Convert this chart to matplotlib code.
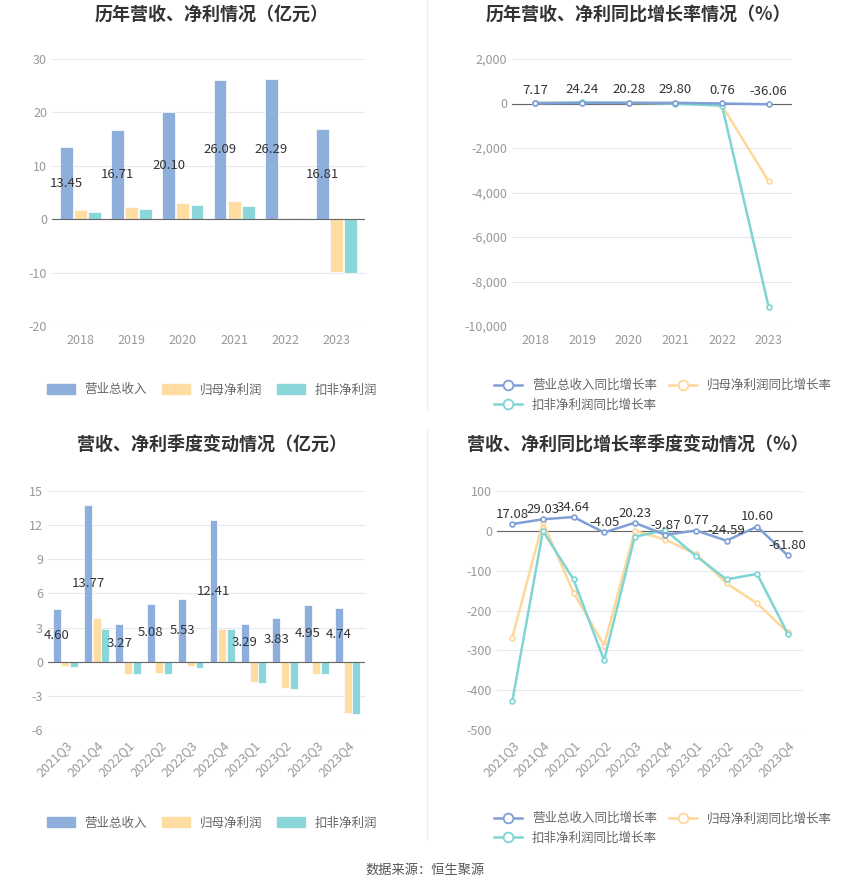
import matplotlib
matplotlib.use("Agg")
import matplotlib.pyplot as plt
import numpy as np
from matplotlib.lines import Line2D

plt.rcParams["font.family"] = ["Noto Sans CJK SC", "DejaVu Sans"]

BLUE = "#8eaedc"
ORANGE = "#fedca2"
CYAN = "#8ad6d8"
LBLUE = "#7f9fd6"
LORANGE = "#fdd899"
LCYAN = "#7fd4d4"
GRID = "#e3e8f3"
TICK = "#999999"

years = ["2018", "2019", "2020", "2021", "2022", "2023"]
rev_y = [13.45, 16.71, 20.10, 26.09, 26.29, 16.81]
np_y = [1.7, 2.3, 3.0, 3.5, 0.3, -9.8]
dnp_y = [1.3, 1.9, 2.6, 2.4, 0.15, -10.0]

rev_g_y = [7.17, 24.24, 20.28, 29.80, 0.76, -36.06]
np_g_y = [30, 35, 30, 15, -90, -3500]
dnp_g_y = [25, 45, 40, -10, -95, -9150]

quarters = ["2021Q3", "2021Q4", "2022Q1", "2022Q2", "2022Q3", "2022Q4",
            "2023Q1", "2023Q2", "2023Q3", "2023Q4"]
rev_q = [4.60, 13.77, 3.27, 5.08, 5.53, 12.41, 3.29, 3.83, 4.95, 4.74]
np_q = [-0.4, 3.8, -1.1, -1.0, -0.4, 2.9, -1.8, -2.3, -1.1, -4.5]
dnp_q = [-0.5, 2.9, -1.1, -1.1, -0.55, 2.9, -1.9, -2.4, -1.1, -4.6]

rev_g_q = [17.08, 29.03, 34.64, -4.05, 20.23, -9.87, 0.77, -24.59, 10.60, -61.80]
np_g_q = [-268, 22, -155, -288, 0, -22, -58, -132, -182, -255]
dnp_g_q = [-428, 0, -122, -325, -15, 2, -63, -122, -108, -258]

W, H = 850, 891
fig = plt.figure(figsize=(W / 100, H / 100), dpi=100)


def rect(x0, y0, x1, y1):
    return [x0 / W, 1 - y1 / H, (x1 - x0) / W, (y1 - y0) / H]


def style(ax, ylim, yticks, fmt="{:g}"):
    ax.set_ylim(*ylim)
    ax.set_yticks(yticks)
    ax.set_yticklabels([fmt.format(v) for v in yticks])
    ax.grid(axis="y", color=GRID, lw=0.8)
    ax.set_axisbelow(True)
    for s in ax.spines.values():
        s.set_visible(False)
    ax.axhline(0, color="#666666", lw=0.8, zorder=2)
    ax.tick_params(axis="both", colors=TICK, labelsize=9, length=0)
    ax.tick_params(axis="x", pad=6)


def bars(ax, cats, a, b, c, ylim, yticks, rot=0):
    x = np.arange(len(cats))
    w = 0.25
    ax.bar(x - w * 1.1, a, w, color=BLUE, ec="white", lw=0.5)
    ax.bar(x, b, w, color=ORANGE, ec="white", lw=0.5)
    ax.bar(x + w * 1.1, c, w, color=CYAN, ec="white", lw=0.5)
    for xi, v in zip(x, a):
        ax.text(xi - w * 1.1, v / 2, f"{v:.2f}", ha="center", va="center",
                fontsize=9.5, color="#333333", zorder=5)
    ax.set_xticks(x)
    ax.set_xticklabels(cats, rotation=rot, ha="right" if rot else "center",
                       rotation_mode="anchor")
    ax.set_xlim(-0.55, len(cats) - 0.45)
    style(ax, ylim, yticks)


def lines(ax, cats, a, b, c, ylim, yticks, fmt, rot=0, lab_off=0):
    x = np.arange(len(cats))
    kw = dict(marker="o", ms=3.5, mfc="white", mew=1.2, lw=1.8)
    ax.plot(x, b, color=LORANGE, zorder=3, **kw)
    ax.plot(x, c, color=LCYAN, zorder=4, **kw)
    ax.plot(x, a, color=LBLUE, zorder=5, **kw)
    for xi, v in zip(x, a):
        ax.text(xi, v + lab_off, f"{v:.2f}", ha="center", va="bottom",
                fontsize=9.5, color="#333333", zorder=6)
    ax.set_xticks(x)
    ax.set_xticklabels(cats, rotation=rot, ha="right" if rot else "center",
                       rotation_mode="anchor")
    ax.set_xlim(-0.5, len(cats) - 0.5)
    style(ax, ylim, yticks, fmt)


ax1 = fig.add_axes(rect(52, 59, 365, 326))
bars(ax1, years, rev_y, np_y, dnp_y, (-20, 30), [-20, -10, 0, 10, 20, 30])
ax2 = fig.add_axes(rect(512, 59, 792, 326))
lines(ax2, years, rev_g_y, np_g_y, dnp_g_y, (-10000, 2000),
      list(range(-10000, 2001, 2000)), "{:,.0f}", lab_off=300)
ax3 = fig.add_axes(rect(48, 491, 365, 730))
bars(ax3, quarters, rev_q, np_q, dnp_q, (-6, 15), [-6, -3, 0, 3, 6, 9, 12, 15], rot=45)
ax4 = fig.add_axes(rect(497, 491, 803, 730))
lines(ax4, quarters, rev_g_q, np_g_q, dnp_g_q, (-500, 100),
      list(range(-500, 101, 100)), "{:g}", rot=45, lab_off=8)

fig.text(212 / W, 1 - 14 / H, "历年营收、净利情况（亿元）", ha="center", va="center",
         fontsize=13, fontweight="bold", color="#333333")
fig.text(638 / W, 1 - 14 / H, "历年营收、净利同比增长率情况（%）", ha="center", va="center",
         fontsize=13, fontweight="bold", color="#333333")
fig.text(212 / W, 1 - 444 / H, "营收、净利季度变动情况（亿元）", ha="center", va="center",
         fontsize=13, fontweight="bold", color="#333333")
fig.text(638 / W, 1 - 444 / H, "营收、净利同比增长率季度变动情况（%）", ha="center", va="center",
         fontsize=13, fontweight="bold", color="#333333")

names = ["营业总收入", "归母净利润", "扣非净利润"]
bar_h = [plt.Rectangle((0, 0), 1, 1, color=c) for c in (BLUE, ORANGE, CYAN)]
for y in (390, 823):
    fig.legend(bar_h, names, loc="center", bbox_to_anchor=(212 / W, 1 - y / H),
               ncol=3, frameon=False, fontsize=9, handlelength=2.2, handleheight=0.9,
               columnspacing=1.2, labelcolor="#666666")

# column-wise fill: rev, ded | np  -> row1: rev, np ; row2: ded
gnames = ["营业总收入同比增长率", "扣非净利润同比增长率", "归母净利润同比增长率"]
line_h = [Line2D([], [], color=c, marker="o", ms=7, mfc="white", mew=1.3, lw=1.8)
          for c in (LBLUE, LCYAN, LORANGE)]
for y in (378, 811):
    fig.legend(line_h, gnames, loc="upper left", bbox_to_anchor=(483 / W, 1 - (y - 10) / H),
               ncol=2, frameon=False, fontsize=9, handlelength=2.2,
               columnspacing=1.0, labelcolor="#666666")

fig.add_artist(Line2D([427 / W, 427 / W], [1 - 410 / H, 1], color="#eeeeee", lw=1))
fig.add_artist(Line2D([427 / W, 427 / W], [1 - 840 / H, 1 - 430 / H], color="#eeeeee", lw=1))
fig.text(0.5, 1 - 870 / H, "数据来源：恒生聚源", ha="center", va="center",
         fontsize=9.5, color="#555555")

fig.savefig("out.png", dpi=100, facecolor="white")
